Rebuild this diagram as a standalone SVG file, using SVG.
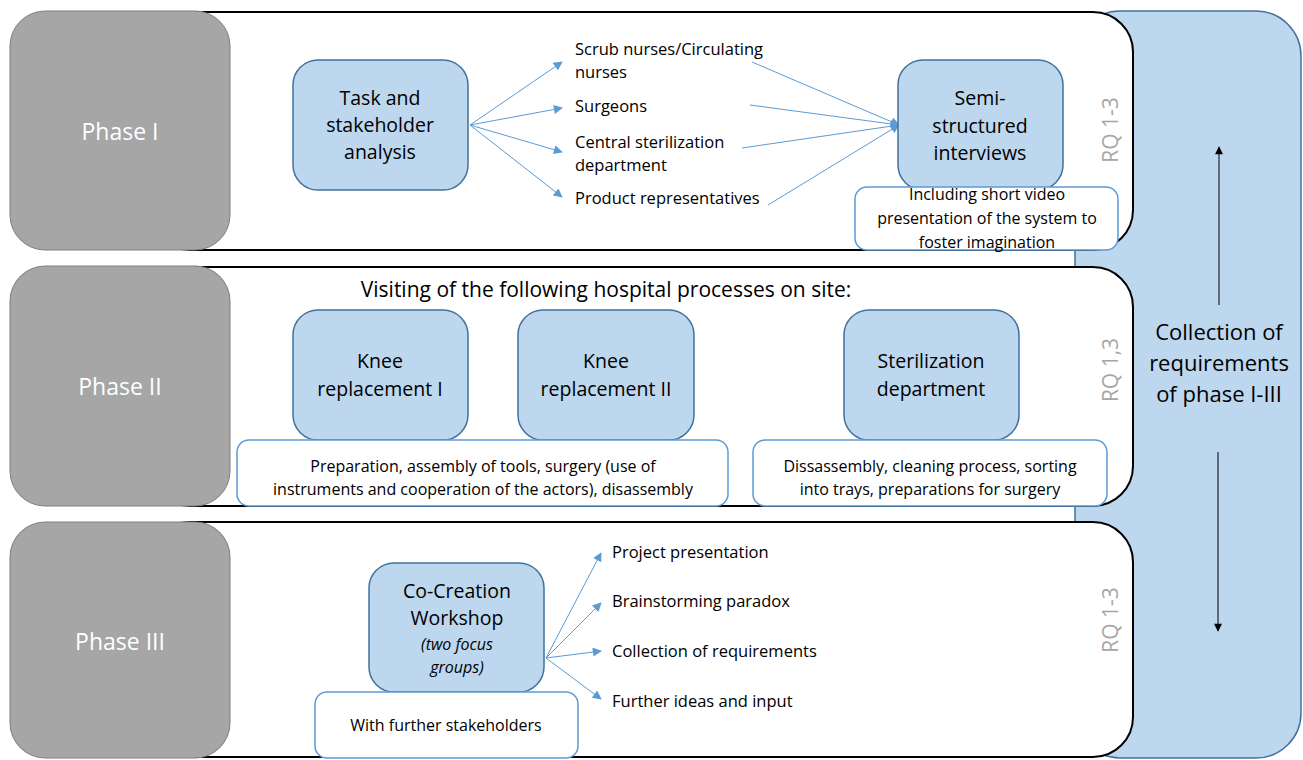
<svg xmlns="http://www.w3.org/2000/svg" width="1303" height="760" viewBox="0 0 1303 760">
<defs>
<style>
.phase{fill:#a6a6a6;stroke:#7f7f7f;stroke-width:1}
.panel{fill:#ffffff;stroke:#000;stroke-width:2}
.node{fill:#bdd7ee;stroke:#41719c;stroke-width:1.5}
.note{fill:#ffffff;stroke:#5b9bd5;stroke-width:1.5}
text{font-family:"Open Sans","Liberation Sans",Arial,sans-serif;fill:#000}
.pl{font-size:23px;fill:#ffffff;text-anchor:middle}
.nt{font-size:19.5px;text-anchor:middle}
.sm{font-size:16.5px}
.smc{font-size:16px;text-anchor:middle}
.rq{font-size:21px;fill:#a6a6a6;text-anchor:middle}
.conn{stroke:#5b9bd5;stroke-width:1;fill:none}
.blk{stroke:#000;stroke-width:1;fill:none}
</style>
<marker id="ab" viewBox="0 0 10 10" refX="9" refY="5" markerWidth="10" markerHeight="9" markerUnits="userSpaceOnUse" orient="auto"><path d="M0,0 L10,5 L0,10 z" fill="#5b9bd5"/></marker>
<marker id="ak" viewBox="0 0 10 10" refX="9" refY="5" markerWidth="9" markerHeight="8" markerUnits="userSpaceOnUse" orient="auto"><path d="M0,0 L10,5 L0,10 z" fill="#000"/></marker>
</defs>
<rect width="1303" height="760" fill="#ffffff"/>

<g id="collection">
<rect x="1075" y="11" width="226" height="747" rx="45" fill="#bdd7ee" stroke="#41719c" stroke-width="1.5"/>
<text x="1219" y="340" style="font-size:22px;text-anchor:middle">Collection of</text>
<text x="1219" y="371" style="font-size:22px;text-anchor:middle">requirements</text>
<text x="1219" y="402" style="font-size:22px;text-anchor:middle">of phase I-III</text>
</g>

<g id="panel1"><rect class="panel" x="150" y="12" width="983" height="238" rx="40"/></g>
<g id="panel2"><rect class="panel" x="150" y="267" width="983" height="239" rx="40"/></g>
<g id="panel3"><rect class="panel" x="150" y="522" width="983" height="235" rx="40"/></g>

<g id="phase1"><rect class="phase" x="10" y="11" width="220" height="239" rx="35"/><text class="pl" x="120" y="140">Phase I</text></g>
<g id="phase2"><rect class="phase" x="10" y="266" width="220" height="240" rx="35"/><text class="pl" x="120" y="395">Phase II</text></g>
<g id="phase3"><rect class="phase" x="10" y="522" width="220" height="236" rx="35"/><text class="pl" x="120" y="650">Phase III</text></g>

<g id="connectors">
<line class="conn" x1="470" y1="125" x2="562" y2="62" marker-end="url(#ab)"/>
<line class="conn" x1="470" y1="125" x2="562" y2="108" marker-end="url(#ab)"/>
<line class="conn" x1="470" y1="125" x2="562" y2="152" marker-end="url(#ab)"/>
<line class="conn" x1="470" y1="125" x2="562" y2="197" marker-end="url(#ab)"/>
<line class="conn" x1="752" y1="62" x2="899" y2="125" marker-end="url(#ab)"/>
<line class="conn" x1="750" y1="105" x2="899" y2="125" marker-end="url(#ab)"/>
<line class="conn" x1="742" y1="148" x2="899" y2="125" marker-end="url(#ab)"/>
<line class="conn" x1="768" y1="205" x2="899" y2="125" marker-end="url(#ab)"/>
<line class="conn" x1="546" y1="658" x2="601" y2="553" marker-end="url(#ab)"/>
<line class="conn" x1="546" y1="658" x2="601" y2="603" marker-end="url(#ab)"/>
<line class="conn" x1="546" y1="658" x2="601" y2="651" marker-end="url(#ab)"/>
<line class="conn" x1="546" y1="658" x2="601" y2="699" marker-end="url(#ab)"/>
<line class="blk" x1="1219" y1="305" x2="1219" y2="147" marker-end="url(#ak)"/>
<line class="blk" x1="1218" y1="452" x2="1218" y2="631" marker-end="url(#ak)"/>
</g>

<g id="task">
<rect class="node" x="293" y="60" width="175" height="130" rx="25"/>
<text class="nt" x="380" y="105">Task and</text>
<text class="nt" x="380" y="132">stakeholder</text>
<text class="nt" x="380" y="159">analysis</text>
</g>
<g id="stakeholders">
<text class="sm" x="575" y="55">Scrub nurses/Circulating</text>
<text class="sm" x="575" y="78">nurses</text>
<text class="sm" x="575" y="112">Surgeons</text>
<text class="sm" x="575" y="148">Central sterilization</text>
<text class="sm" x="575" y="171">department</text>
<text class="sm" x="575" y="204">Product representatives</text>
</g>
<g id="interviews">
<rect class="node" x="898" y="60" width="165" height="130" rx="25"/>
<text class="nt" x="980" y="105">Semi-</text>
<text class="nt" x="980" y="133">structured</text>
<text class="nt" x="980" y="160">interviews</text>
</g>
<g id="video">
<rect class="note" x="855" y="187" width="263" height="63" rx="12"/>
<text class="smc" x="987" y="200">Including short video</text>
<text class="smc" x="987" y="224">presentation of the system to</text>
<text class="smc" x="987" y="248">foster imagination</text>
</g>
<g id="rq1"><text class="rq" transform="translate(1118,130) rotate(-90)">RQ 1-3</text></g>

<g id="visiting"><text x="606" y="297" style="font-size:21px;text-anchor:middle">Visiting of the following hospital processes on site:</text></g>
<g id="knee1">
<rect class="node" x="293" y="310" width="175" height="130" rx="25"/>
<text class="nt" x="380" y="368">Knee</text>
<text class="nt" x="380" y="396">replacement I</text>
</g>
<g id="knee2">
<rect class="node" x="518" y="310" width="176" height="130" rx="25"/>
<text class="nt" x="606" y="368">Knee</text>
<text class="nt" x="606" y="396">replacement II</text>
</g>
<g id="steril">
<rect class="node" x="844" y="310" width="175" height="130" rx="25"/>
<text class="nt" x="931" y="368">Sterilization</text>
<text class="nt" x="931" y="396">department</text>
</g>
<g id="prep">
<rect class="note" x="237" y="440" width="491" height="66" rx="12"/>
<text class="smc" x="483" y="472">Preparation, assembly of tools, surgery (use of</text>
<text class="smc" x="483" y="495">instruments and cooperation of the actors), disassembly</text>
</g>
<g id="disass">
<rect class="note" x="753" y="440" width="354" height="66" rx="12"/>
<text class="smc" x="930" y="472">Dissassembly, cleaning process, sorting</text>
<text class="smc" x="930" y="495">into trays, preparations for surgery</text>
</g>
<g id="rq2"><text class="rq" transform="translate(1118,370) rotate(-90)">RQ 1,3</text></g>

<g id="cocreation">
<rect class="node" x="369" y="563" width="175" height="129" rx="25"/>
<text class="nt" x="457" y="598">Co-Creation</text>
<text class="nt" x="457" y="625">Workshop</text>
<text class="smc" x="457" y="650" font-style="italic">(two focus</text>
<text class="smc" x="457" y="673" font-style="italic">groups)</text>
</g>
<g id="further">
<rect class="note" x="315" y="692" width="263" height="66" rx="12"/>
<text class="smc" x="446" y="731">With further stakeholders</text>
</g>
<g id="outputs">
<text class="sm" x="612" y="558">Project presentation</text>
<text class="sm" x="612" y="607">Brainstorming paradox</text>
<text class="sm" x="612" y="657">Collection of requirements</text>
<text class="sm" x="612" y="707">Further ideas and input</text>
</g>
<g id="rq3"><text class="rq" transform="translate(1118,620) rotate(-90)">RQ 1-3</text></g>
</svg>
